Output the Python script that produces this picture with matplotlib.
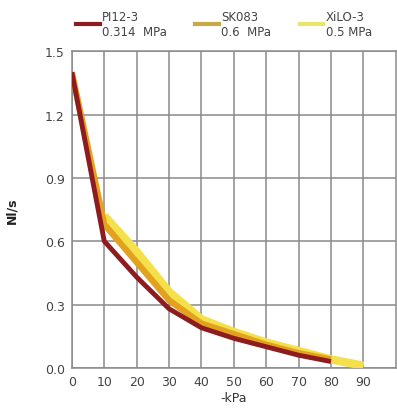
import matplotlib
matplotlib.use("Agg")
import matplotlib.pyplot as plt
from matplotlib.lines import Line2D

pressure_kpa = [0, 10, 20, 30, 40, 50, 60, 70, 80, 90]
pi12_x = [0, 10, 20, 30, 40, 50, 60, 70, 80]
pi12_y = [1.40, 0.60, 0.43, 0.28, 0.19, 0.14, 0.10, 0.06, 0.03]
sk083_x = [0, 10, 20, 30, 40, 50, 60, 70, 80]
sk083_y = [1.40, 0.68, 0.50, 0.32, 0.21, 0.16, 0.11, 0.07, 0.04]
xilo_x = [10, 20, 30, 40, 50, 60, 70, 80, 90]
xilo_y = [0.72, 0.55, 0.36, 0.23, 0.17, 0.12, 0.08, 0.04, 0.01]
labels = ["PI12-3\n0.314  MPa", "SK083\n0.6  MPa", "XiLO-3\n0.5 MPa"]
yticks = [0.0, 0.3, 0.6, 0.9, 1.2, 1.5]
ytick_labels = ["0.0", "0.3", "0.6", "0.9", "1.2", "1.5"]

plt.rcParams['font.family'] = ['DejaVu Sans']
fig = plt.figure(figsize=(3.97, 4.14), dpi=100)
ax = fig.add_axes([0.181, 0.109, 0.816, 0.765])

c_red = "#8e1b1e"
c_gold = "#e2a21e"
c_yel = "#f4e04a"

ax.plot(xilo_x, xilo_y, color=c_yel, lw=6, solid_capstyle='butt', zorder=3)
ax.plot(sk083_x, sk083_y, color=c_gold, lw=4.5, solid_capstyle='butt', zorder=4)
ax.plot(pi12_x, pi12_y, color=c_red, lw=3.5, solid_capstyle='butt', zorder=5)

ax.set_xlim(0, 100)
ax.set_ylim(0, 1.5)
ax.set_xticks(pressure_kpa)
ax.set_yticks(yticks)
ax.set_yticklabels(ytick_labels)
ax.grid(True, color="#8a8a8a", lw=1.1)
ax.tick_params(length=0, labelsize=9, colors="#444444", pad=5)
for s in ax.spines.values():
    s.set_color("#8a8a8a")
    s.set_linewidth(1.1)
ax.set_xlabel("-kPa", fontsize=9, color="#333333", labelpad=2)
ax.set_ylabel("Nl/s", fontsize=9, color="#222222", fontweight='bold', labelpad=19)

handles = [Line2D([], [], color=c_red, lw=3),
           Line2D([], [], color="#c9a84a", lw=3),
           Line2D([], [], color="#e6e66a", lw=3)]
fig.legend(handles, labels, loc='upper left', bbox_to_anchor=(0.165, 1.0), ncol=3,
           frameon=False, fontsize=8.5, handlelength=2.0, handletextpad=0.2,
           columnspacing=2.4, labelcolor="#444444")
fig.savefig("out.png", dpi=100)
